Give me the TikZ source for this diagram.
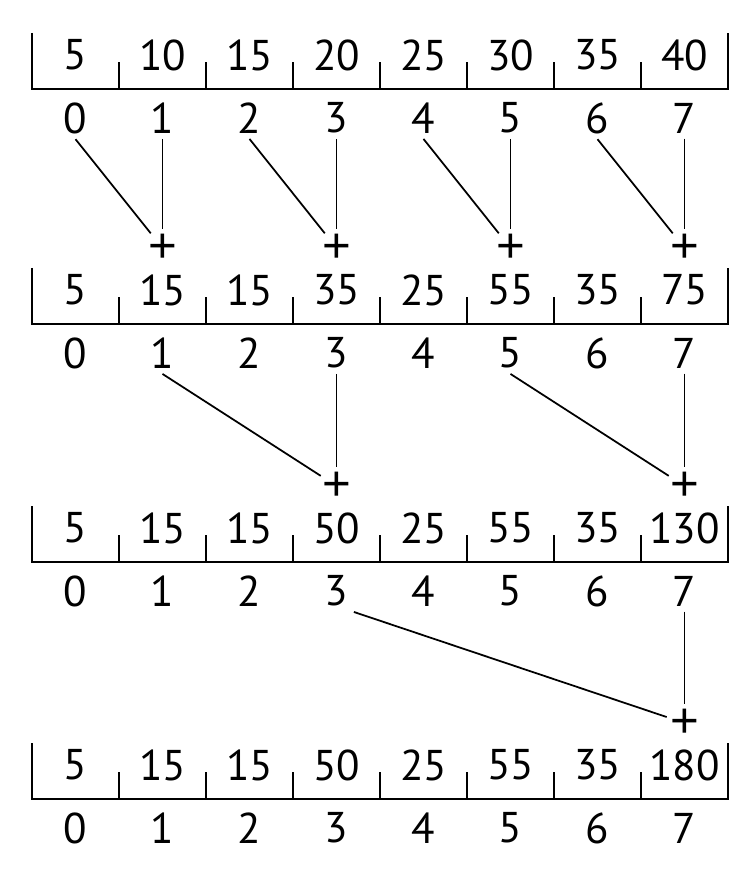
\documentclass[tikz,border=0pt]{standalone}
\usepackage{fontspec}
\setmainfont{PT Sans}
\newfontfamily\plusfont{Liberation Sans}
\usetikzlibrary{positioning}
\tikzset{frame/.style = {line width=1.1pt},
         cell/.style = {inner sep=0pt, font=\fontsize{24.5}{26}\selectfont},
         idx/.style = {inner sep=3pt, font=\fontsize{24.5}{26}\selectfont},
         plusnode/.style = {circle, minimum size=21pt, inner sep=-2pt,
                            font=\plusfont\fontsize{28}{30}\selectfont},
         link/.style = {line width=1pt}}

\begin{document}
\begin{tikzpicture}[x=0.02cm, y=-0.02cm]
      \useasboundingbox (0,0) rectangle (750,878);

      \foreach \r/\b/\vals in {1/89/{5,10,15,20,25,30,35,40},
                               2/324/{5,15,15,35,25,55,35,75},
                               3/562/{5,15,15,50,25,55,35,130},
                               4/799/{5,15,15,50,25,55,35,180}} {
        \draw [frame] (32, {\b-56}) -- (32, \b) -- (728, \b) -- (728, {\b-56});
        \foreach \k in {1,...,7}
          \draw [frame] ({32+87*\k}, \b) -- ++(0, -27);
        \foreach \v [count=\i from 0] in \vals {
          \node [cell] (r\r v\i) at ({75.5+87*\i}, {\b-34}) {\v};
          \node [idx] (r\r i\i) at ({75.5+87*\i}, {\b+29}) {\i};
        }
      }

      \foreach \k in {1,3,5,7}
        \node [plusnode] (r2p\k) at ([yshift=0.84cm] r2v\k.center) {+};
      \foreach \k in {3,7}
        \node [plusnode] (r3p\k) at ([yshift=0.84cm] r3v\k.center) {+};
      \node [plusnode] (r4p7) at ([yshift=0.84cm] r4v7.center) {+};

      \foreach \k [evaluate=\k as \j using int(\k-1)] in {1,3,5,7} {
        \draw [link] (r1i\j.south) -- (r2p\k);
        \draw [link] (r1i\k) -- (r2p\k);
      }

      \draw [link] (r2i1.south) -- (r3p3);
      \draw [link] (r2i3) -- (r3p3);
      \draw [link] (r2i5.south) -- (r3p7);
      \draw [link] (r2i7) -- (r3p7);

      \draw [link] (r3i3.south east) -- (r4p7);
      \draw [link] (r3i7) -- (r4p7);
    \end{tikzpicture}
\end{document}
